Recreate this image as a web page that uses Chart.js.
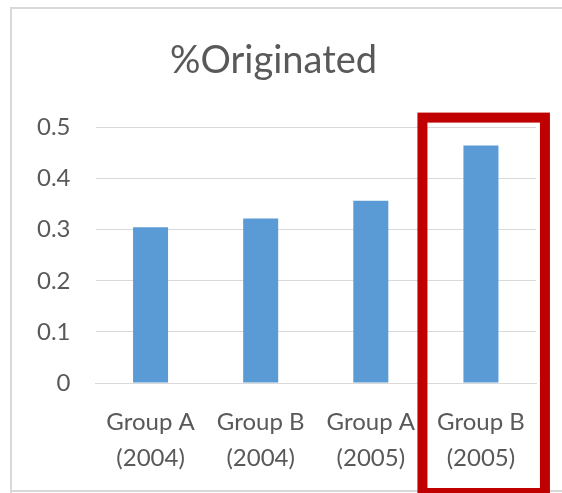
<!DOCTYPE html>
<html>
<head>
<meta charset="utf-8">
<script src="https://cdn.jsdelivr.net/npm/chart.js@4/dist/chart.umd.min.js"></script>
<style>
  html, body { margin: 0; padding: 0; background: #ffffff; }
  #wrap { width: 562px; height: 493px; position: relative; }
</style>
</head>
<body>
<div id="wrap"><canvas id="chart" width="562" height="493"></canvas></div>
<script>
// Share of applications originated, by group and year
const categories = [
  ["Group A", "(2004)"],
  ["Group B", "(2004)"],
  ["Group A", "(2005)"],
  ["Group B", "(2005)"]
];
const originatedShare = [0.305, 0.322, 0.357, 0.465];
const yTicks = [0, 0.1, 0.2, 0.3, 0.4, 0.5];
const highlightIndex = 3;

const FONT = "Lato, 'Open Sans', sans-serif";
const TEXT = "#595959";
const GRID = "#d9d9d9";

// Light frame around the chart and white background
const framePlugin = {
  id: "frame",
  beforeDraw(chart) {
    const c = chart.ctx;
    c.save();
    c.fillStyle = "#ffffff";
    c.fillRect(0, 0, chart.width, chart.height);
    c.strokeStyle = GRID;
    c.lineWidth = 2;
    c.beginPath();
    c.moveTo(11, chart.height);
    c.lineTo(11, 8);
    c.lineTo(chart.width, 8);
    c.moveTo(10, 491);
    c.lineTo(chart.width, 491);
    c.stroke();
    c.restore();
  }
};

// Red box drawn around the highlighted category
const highlightPlugin = {
  id: "highlight",
  afterDraw(chart) {
    const x = chart.scales.x, y = chart.scales.y;
    const cx = x.getPixelForValue(highlightIndex);
    const top = y.getPixelForValue(yTicks[yTicks.length - 1]) - 10;
    const c = chart.ctx;
    c.save();
    c.strokeStyle = "#c00000";
    c.lineWidth = 10;
    c.strokeRect(cx - 58.5, top, 122.5, chart.height - top);
    c.restore();
  }
};

new Chart(document.getElementById("chart"), {
  type: "bar",
  data: {
    labels: categories,
    datasets: [{
      data: originatedShare,
      backgroundColor: "#5b9bd5",
      borderWidth: 0,
      categoryPercentage: 1,
      barPercentage: 0.318
    }]
  },
  options: {
    responsive: false,
    animation: false,
    devicePixelRatio: 1,
    layout: { padding: { left: 11, right: 26, top: 0, bottom: 0 } },
    plugins: {
      legend: { display: false },
      tooltip: { enabled: false },
      title: {
        display: true,
        text: "%Originated",
        color: TEXT,
        font: { family: FONT, size: 38, weight: "normal" },
        padding: { top: 38, bottom: 44 }
      }
    },
    scales: {
      x: {
        grid: { display: false, drawTicks: false },
        border: { display: true, color: GRID, width: 1 },
        ticks: {
          color: TEXT,
          font: { family: FONT, size: 24, lineHeight: 1.5 },
          padding: 21,
          maxRotation: 0,
          autoSkip: false
        },
        afterFit(scale) { scale.height = 110; }
      },
      y: {
        min: 0,
        max: 0.5,
        grid: { color: GRID, lineWidth: 1, drawTicks: false },
        border: { display: false },
        afterBuildTicks(scale) { scale.ticks = yTicks.map(v => ({ value: v })); },
        ticks: {
          color: TEXT,
          font: { family: FONT, size: 24 },
          padding: 25,
          callback: v => String(v)
        },
        afterFit(scale) { scale.width = 84.5; }
      }
    }
  },
  plugins: [framePlugin, highlightPlugin]
});
</script>
</body>
</html>
